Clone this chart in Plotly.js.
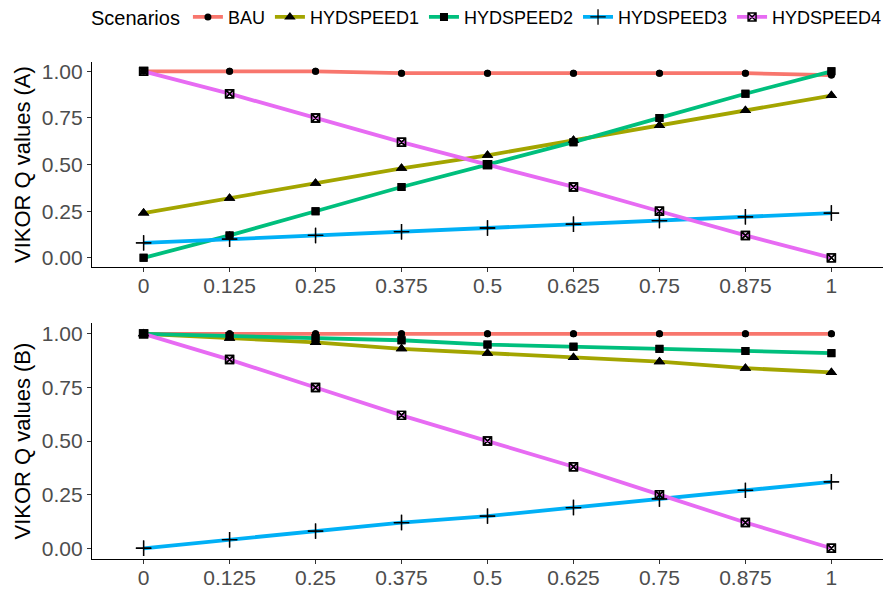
<!DOCTYPE html>
<html>
<head>
<meta charset="utf-8">
<script src="https://cdn.plot.ly/plotly-3.0.1.min.js"></script>
<style>html,body{margin:0;padding:0;background:#fff;}</style>
</head>
<body>
<div id="chart" style="width:895px;height:589px;"></div>
<script>
// weights (x axis)
const weights = [0, 0.125, 0.25, 0.375, 0.5, 0.625, 0.75, 0.875, 1];
const weightLabels = ['0', '0.125', '0.25', '0.375', '0.5', '0.625', '0.75', '0.875', '1'];
const scenarios = ['BAU', 'HYDSPEED1', 'HYDSPEED2', 'HYDSPEED3', 'HYDSPEED4'];

// Panel A: VIKOR Q values (A)
const qA_BAU       = [1.00, 1.00, 1.00, 0.99, 0.99, 0.99, 0.99, 0.99, 0.98];
const qA_HYDSPEED1 = [0.24, 0.32, 0.40, 0.48, 0.55, 0.63, 0.71, 0.79, 0.87];
const qA_HYDSPEED2 = [0.00, 0.12, 0.25, 0.38, 0.50, 0.62, 0.75, 0.88, 1.00];
const qA_HYDSPEED3 = [0.08, 0.10, 0.12, 0.14, 0.16, 0.18, 0.20, 0.22, 0.24];
const qA_HYDSPEED4 = [1.00, 0.88, 0.75, 0.62, 0.50, 0.38, 0.25, 0.12, 0.00];

// Panel B: VIKOR Q values (B)
const qB_BAU       = [1.00, 1.00, 1.00, 1.00, 1.00, 1.00, 1.00, 1.00, 1.00];
const qB_HYDSPEED1 = [1.00, 0.98, 0.96, 0.93, 0.91, 0.89, 0.87, 0.84, 0.82];
const qB_HYDSPEED2 = [1.00, 0.99, 0.98, 0.97, 0.95, 0.94, 0.93, 0.92, 0.91];
const qB_HYDSPEED3 = [0.00, 0.04, 0.08, 0.12, 0.15, 0.19, 0.23, 0.27, 0.31];
const qB_HYDSPEED4 = [1.00, 0.88, 0.75, 0.62, 0.50, 0.38, 0.25, 0.12, 0.00];

const seriesA = [qA_BAU, qA_HYDSPEED1, qA_HYDSPEED2, qA_HYDSPEED3, qA_HYDSPEED4];
const seriesB = [qB_BAU, qB_HYDSPEED1, qB_HYDSPEED2, qB_HYDSPEED3, qB_HYDSPEED4];

const colors = ['#F8766D', '#A3A500', '#00BF7D', '#00B0F6', '#E76BF3'];
const markers = [
  {symbol: 'circle', size: 7, color: '#000', line: {width: 0}},
  {symbol: 'triangle-up', size: 10, color: '#000', line: {width: 0}},
  {symbol: 'square', size: 8, color: '#000', line: {width: 0}},
  {symbol: 'cross-thin-open', size: 11, color: '#000', line: {width: 1.3, color: '#000'}},
  {symbol: 'square-x-open', size: 8, color: '#000', line: {width: 1.4, color: '#000'}}
];

const traces = [];
function addPanel(series, xa, ya, legend) {
  series.forEach((ys, i) => {
    traces.push({
      x: weights, y: ys, xaxis: xa, yaxis: ya, type: 'scatter', mode: 'lines+markers',
      name: scenarios[i], legendgroup: scenarios[i], showlegend: legend,
      line: {color: colors[i], width: 3.8}, marker: markers[i], hoverinfo: 'x+y+name'
    });
  });
  series.forEach((ys, i) => {
    traces.push({
      x: weights, y: ys, xaxis: xa, yaxis: ya, type: 'scatter', mode: 'markers',
      name: scenarios[i], legendgroup: scenarios[i], showlegend: false,
      marker: markers[i], hoverinfo: 'skip'
    });
  });
}
addPanel(seriesA, 'x', 'y', true);
addPanel(seriesB, 'x2', 'y2', false);

const FONT = 'Liberation Sans, Arial, Helvetica, sans-serif';
const tickFont = {family: FONT, size: 21, color: '#4D4D4D'};
function xaxis(anchor) {
  return {
    anchor: anchor, domain: [0, 1], range: [-0.075, 1.075],
    tickmode: 'array', tickvals: weights, ticktext: weightLabels,
    showline: true, linecolor: '#000', linewidth: 1.07, showgrid: false, zeroline: false,
    ticks: 'outside', ticklen: 4, tickwidth: 1.07, tickcolor: '#333333',
    tickfont: tickFont, automargin: false, ticklabelstandoff: -4
  };
}
function yaxis(anchor, domain, title) {
  return {
    anchor: anchor, domain: domain, range: [-0.05, 1.05],
    tickmode: 'array', tickvals: [0, 0.25, 0.5, 0.75, 1], ticktext: ['0.00', '0.25', '0.50', '0.75', '1.00'],
    showline: true, linecolor: '#000', linewidth: 1.07, showgrid: false, zeroline: false,
    ticks: 'outside', ticklen: 4, tickwidth: 1.07, tickcolor: '#333333',
    tickfont: tickFont, automargin: false,
    title: {text: title, font: {family: FONT, size: 22, color: '#000'}, standoff: 5}
  };
}

const layout = {
  width: 895, height: 589,
  margin: {l: 92, r: 12, t: 62, b: 30, autoexpand: false},
  paper_bgcolor: '#fff', plot_bgcolor: '#fff',
  font: {family: FONT},
  xaxis: xaxis('y'),
  yaxis: yaxis('x', [0.5872, 1], 'VIKOR Q values (A)'),
  xaxis2: xaxis('y2'),
  yaxis2: yaxis('x2', [0, 0.4746], 'VIKOR Q values (B)'),
  showlegend: true,
  legend: {
    orientation: 'h', x: 0.5006, xanchor: 'center', y: 1.09, yanchor: 'middle',
    title: {text: 'Scenarios', side: 'left', font: {family: FONT, size: 20, color: '#000'}},
    font: {family: FONT, size: 18, color: '#000'},
    bgcolor: 'rgba(0,0,0,0)', itemwidth: 30, tracegroupgap: 0
  }
};

Plotly.newPlot('chart', traces, layout, {displayModeBar: false, staticPlot: true});
</script>
</body>
</html>
